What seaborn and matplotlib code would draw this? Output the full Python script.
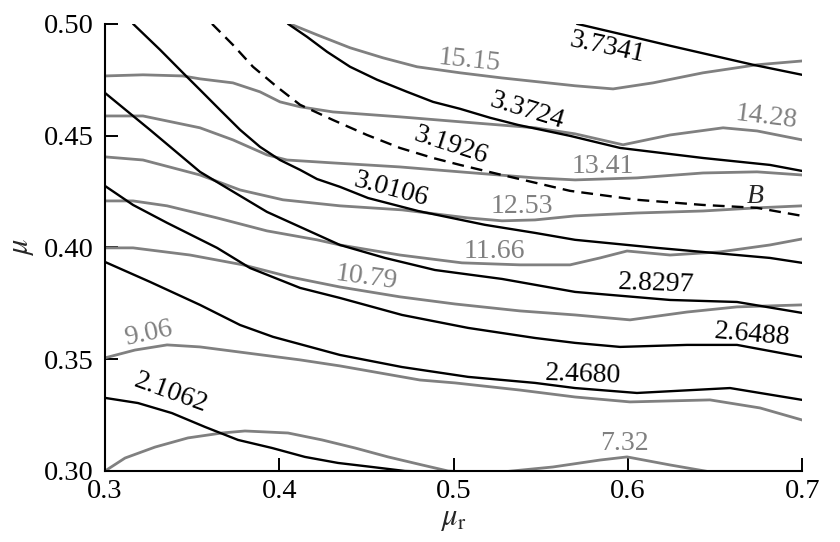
import matplotlib
matplotlib.use('Agg')
import matplotlib.pyplot as plt
import seaborn as sns

# grey contours
g1515_x = [0.4061, 0.4216, 0.4406, 0.4595, 0.4790, 0.5037, 0.5278, 0.5697, 0.5915, 0.6144, 0.6431, 0.6741, 0.700]
g1515_y = [0.500, 0.4951, 0.4893, 0.4848, 0.4808, 0.4781, 0.4758, 0.4723, 0.4709, 0.4736, 0.4781, 0.4817, 0.4834]

g1428_x = [0.300, 0.3218, 0.3447, 0.3545, 0.3734, 0.3889, 0.4004, 0.4119, 0.4308, 0.4692, 0.5037, 0.5467, 0.5697, 0.5972, 0.6242, 0.6546, 0.6741, 0.700]
g1428_y = [0.4767, 0.4772, 0.4767, 0.4754, 0.4736, 0.4696, 0.4651, 0.4629, 0.4606, 0.4584, 0.4562, 0.4535, 0.4508, 0.4459, 0.4503, 0.4535, 0.4521, 0.4481]

g1341_x = [0.300, 0.3218, 0.3545, 0.3734, 0.3929, 0.4044, 0.4308, 0.4692, 0.5037, 0.5467, 0.5697, 0.6052, 0.6431, 0.6741, 0.700]
g1341_y = [0.4588, 0.4588, 0.4535, 0.4481, 0.4414, 0.4391, 0.4378, 0.4360, 0.4338, 0.4311, 0.4302, 0.4311, 0.4333, 0.4338, 0.4324]

g1253_x = [0.300, 0.3218, 0.3545, 0.3775, 0.4021, 0.4348, 0.4704, 0.5083, 0.5278, 0.5467, 0.5697, 0.6052, 0.6431, 0.6741, 0.700]
g1253_y = [0.4405, 0.4391, 0.4324, 0.4257, 0.4213, 0.4186, 0.4168, 0.4132, 0.4119, 0.4123, 0.4141, 0.4154, 0.4163, 0.4177, 0.4186]

g1166_x = [0.300, 0.3161, 0.3356, 0.3643, 0.3929, 0.4216, 0.4348, 0.4692, 0.5048, 0.5381, 0.5668, 0.5840, 0.5995, 0.6242, 0.6528, 0.6815, 0.700]
g1166_y = [0.4208, 0.4208, 0.4186, 0.4132, 0.4074, 0.4034, 0.4011, 0.3966, 0.3931, 0.3922, 0.3922, 0.3953, 0.3984, 0.3966, 0.3980, 0.4011, 0.4038]

g1079_x = [0.300, 0.3161, 0.3488, 0.3792, 0.4061, 0.4348, 0.4692, 0.5008, 0.5381, 0.5697, 0.6012, 0.6339, 0.6626, 0.700]
g1079_y = [0.3998, 0.3998, 0.3966, 0.3922, 0.3868, 0.3823, 0.3779, 0.3747, 0.3716, 0.3698, 0.3676, 0.3711, 0.3734, 0.3743]

g906_x = [0.300, 0.3172, 0.3356, 0.3545, 0.4119, 0.4348, 0.4807, 0.5008, 0.5381, 0.5697, 0.6012, 0.6471, 0.6758, 0.700]
g906_y = [0.3506, 0.3541, 0.3564, 0.3555, 0.3497, 0.3470, 0.3407, 0.3394, 0.3362, 0.3331, 0.3309, 0.3318, 0.3282, 0.3228]

g732_x = [0.300, 0.3115, 0.3287, 0.3476, 0.3671, 0.3803, 0.4050, 0.4245, 0.4434, 0.4624, 0.4819, 0.4968, 0.5151, 0.5283, 0.5570, 0.5840, 0.5995, 0.6242, 0.6471, 0.6643]
g732_y = [0.300, 0.3058, 0.3107, 0.3148, 0.3170, 0.3179, 0.3170, 0.3139, 0.3103, 0.3063, 0.3027, 0.3000, 0.2991, 0.2996, 0.3018, 0.3049, 0.3063, 0.3027, 0.2996, 0.2973]

# black contours
b37341_x = [0.5708, 0.5955, 0.6242, 0.6718, 0.700]
b37341_y = [0.500, 0.4955, 0.4902, 0.4817, 0.4772]

b33724_x = [0.4050, 0.4159, 0.4274, 0.4406, 0.4561, 0.4733, 0.4882, 0.5037, 0.5209, 0.5369, 0.5668, 0.5955, 0.6431, 0.6815, 0.700]
b33724_y = [0.500, 0.4942, 0.4875, 0.4808, 0.4750, 0.4696, 0.4651, 0.4620, 0.4580, 0.4548, 0.4499, 0.4445, 0.4400, 0.4369, 0.4342]

b30106_x = [0.3161, 0.3316, 0.3447, 0.3545, 0.3660, 0.3775, 0.3889, 0.4004, 0.4119, 0.4216, 0.4348, 0.4509, 0.4796, 0.5180, 0.5467, 0.5697, 0.6167, 0.6815, 0.700]
b30106_y = [0.500, 0.4884, 0.4781, 0.4705, 0.4615, 0.4526, 0.4450, 0.4391, 0.4347, 0.4306, 0.4271, 0.4221, 0.4163, 0.4101, 0.4065, 0.4034, 0.3998, 0.3953, 0.3931]

b28297_x = [0.300, 0.3258, 0.3545, 0.3929, 0.4348, 0.4606, 0.4893, 0.5278, 0.5697, 0.6242, 0.6626, 0.700]
b28297_y = [0.4691, 0.4526, 0.4338, 0.4159, 0.4011, 0.3953, 0.3899, 0.3859, 0.3801, 0.3765, 0.3756, 0.3707]

b26488_x = [0.300, 0.3161, 0.3356, 0.3643, 0.3832, 0.4119, 0.4348, 0.4704, 0.5083, 0.5467, 0.5697, 0.5955, 0.6339, 0.6626, 0.700]
b26488_y = [0.4275, 0.4190, 0.4110, 0.3998, 0.3908, 0.3819, 0.3774, 0.3698, 0.3640, 0.3595, 0.3573, 0.3555, 0.3564, 0.3564, 0.3510]

b24680_x = [0.300, 0.3258, 0.3545, 0.3775, 0.3964, 0.4348, 0.4704, 0.5083, 0.5467, 0.5697, 0.6052, 0.6586, 0.700]
b24680_y = [0.3935, 0.3846, 0.3743, 0.3653, 0.3600, 0.3519, 0.3465, 0.3421, 0.3394, 0.3371, 0.3349, 0.3371, 0.3318]

b21062_x = [0.300, 0.3189, 0.3384, 0.3574, 0.3763, 0.3958, 0.4147, 0.4337, 0.4532, 0.4721, 0.4911, 0.5094]
b21062_y = [0.3327, 0.3304, 0.3259, 0.3197, 0.3139, 0.3103, 0.3063, 0.3036, 0.3018, 0.3000, 0.2996, 0.2987]

# dashed boundary B (3.1926)
bB_x = [0.3614, 0.3734, 0.3849, 0.3987, 0.4119, 0.4308, 0.4503, 0.4692, 0.4882, 0.5037, 0.5278, 0.5668, 0.6052, 0.6431, 0.6741, 0.700]
bB_y = [0.500, 0.4906, 0.4808, 0.4718, 0.4638, 0.4570, 0.4503, 0.4445, 0.4400, 0.4369, 0.4324, 0.4253, 0.4213, 0.4190, 0.4177, 0.4141]

# inline labels: text, x, y, rotation
grey_labels = [('15.15', 0.5088, 0.4834, -6), ('14.28', 0.6792, 0.4584, -7),
               ('13.41', 0.5857, 0.4360, 0), ('12.53', 0.5392, 0.4181, 0),
               ('11.66', 0.5232, 0.3980, 0), ('10.79', 0.4497, 0.3864, -8),
               ('9.06', 0.3252, 0.3613, 12), ('7.32', 0.5983, 0.3125, 0)]
black_labels = [('3.7341', 0.5880, 0.4893, -12), ('3.3724', 0.5421, 0.4611, -17),
                ('3.1926', 0.4985, 0.4454, -18), ('3.0106', 0.4641, 0.4257, -15),
                ('2.8297', 0.6161, 0.3837, -2), ('2.6488', 0.6712, 0.3609, -5),
                ('2.4680', 0.5742, 0.3430, -2), ('2.1062', 0.3379, 0.3349, -20)]

sns.set_style('ticks')
plt.rcParams['font.family'] = ['Liberation Serif', 'DejaVu Serif']
plt.rcParams['mathtext.fontset'] = 'stix'

GREY = '#808080'
fig = plt.figure(figsize=(8.4, 5.42), dpi=100)
ax = fig.add_axes([0.125, 0.131, 0.830, 0.825])

greys = [(g1515_x, g1515_y), (g1428_x, g1428_y), (g1341_x, g1341_y), (g1253_x, g1253_y),
         (g1166_x, g1166_y), (g1079_x, g1079_y), (g906_x, g906_y), (g732_x, g732_y)]
blacks = [(b37341_x, b37341_y), (b33724_x, b33724_y), (b30106_x, b30106_y), (b28297_x, b28297_y),
          (b26488_x, b26488_y), (b24680_x, b24680_y), (b21062_x, b21062_y)]

for xs, ys in greys:
    sns.lineplot(x=xs, y=ys, ax=ax, color=GREY, lw=2.0, sort=False, estimator=None,
                 solid_joinstyle='round')
for xs, ys in blacks:
    sns.lineplot(x=xs, y=ys, ax=ax, color='black', lw=1.7, sort=False, estimator=None,
                 solid_joinstyle='round')
sns.lineplot(x=bB_x, y=bB_y, ax=ax, color='black', lw=1.7, sort=False, estimator=None,
             linestyle=(0, (5, 3)))

for s, x, y, r in grey_labels:
    ax.text(x, y, s, color=GREY, fontsize=20, rotation=r, rotation_mode='anchor',
            ha='center', va='center')
for s, x, y, r in black_labels:
    ax.text(x, y, s, color='black', fontsize=20, rotation=r, rotation_mode='anchor',
            ha='center', va='center')
ax.text(0.6729, 0.4230, 'B', fontsize=20, style='italic', ha='center', va='center')

ax.set_xlim(0.3, 0.7)
ax.set_ylim(0.30, 0.50)
ax.set_xticks([0.3, 0.4, 0.5, 0.6, 0.7])
ax.set_xticklabels(['0.3', '0.4', '0.5', '0.6', '0.7'])
ax.set_yticks([0.30, 0.35, 0.40, 0.45, 0.50])
ax.set_yticklabels(['0.30', '0.35', '0.40', '0.45', '0.50'])
ax.tick_params(direction='in', length=9.5, width=1.4, labelsize=20.5, colors='black')
ax.tick_params(axis='x', pad=6)
ax.tick_params(axis='y', pad=8)
for side in ['top', 'right']:
    ax.spines[side].set_visible(False)
for side in ['left', 'bottom']:
    ax.spines[side].set_linewidth(1.5)
    ax.spines[side].set_color('black')
ax.set_xlabel(r'$\mu_{\rm r}$', fontsize=22, labelpad=0)
ax.set_ylabel(r'$\mu$', fontsize=22, labelpad=6)

fig.savefig('out.png', dpi=100)
